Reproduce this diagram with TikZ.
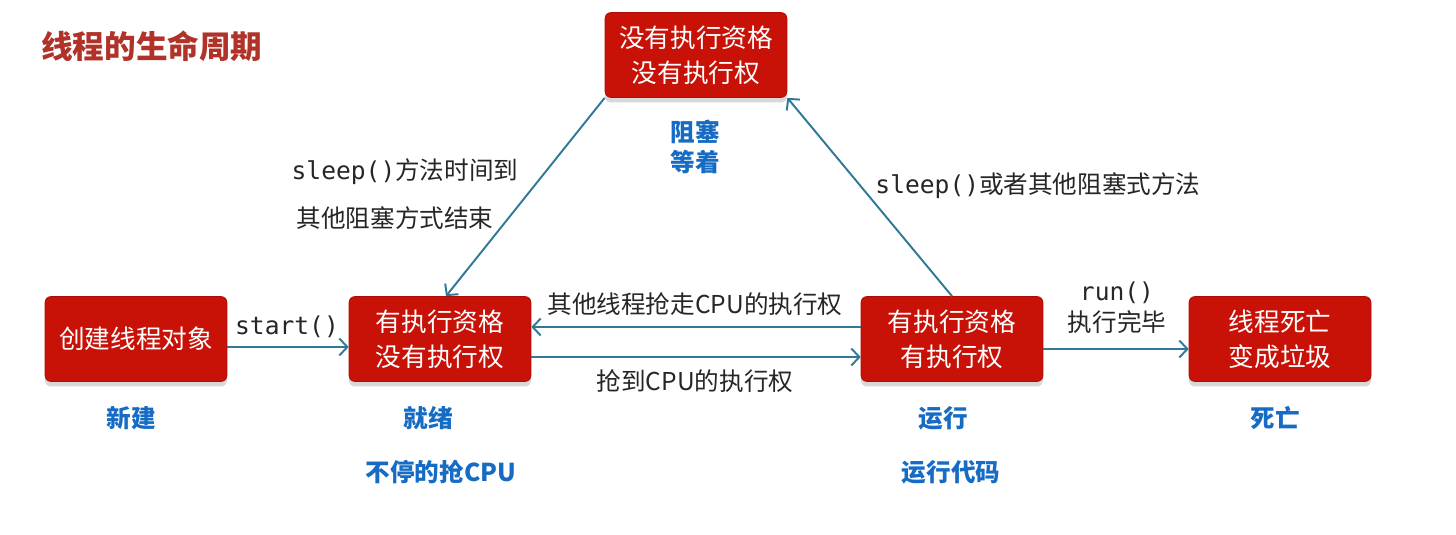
\documentclass[tikz,border=0pt]{standalone}
\usepackage{fontspec}
\setmainfont{Noto Sans CJK SC}
\setmonofont{DejaVu Sans Mono}
\usetikzlibrary{arrows.meta,shadows}

\definecolor{boxred}{RGB}{200,18,8}
\definecolor{linkblue}{RGB}{48,120,152}
\definecolor{statblue}{RGB}{22,108,196}
\definecolor{titlered}{RGB}{176,50,40}

\begin{document}
\begin{tikzpicture}[
    x=0.02cm, y=-0.02cm,
    state/.style={draw=boxred!85!black, fill=boxred, rounded corners=0.12cm,
                  minimum width=3.64cm, minimum height=1.7cm, align=center,
                  text=white, font=\fontsize{14.6}{20}\selectfont,
                  drop shadow={shadow xshift=0cm, shadow yshift=-0.1cm, fill=black!30}},
    stat/.style={text=statblue, align=center, font=\fontsize{14}{17}\selectfont\bfseries},
    note/.style={text=black!85, font=\fontsize{14}{17}\selectfont, align=center},
    arrow/.style={-{Straight Barb[length=1.6mm,width=3.4mm]}, draw=linkblue, line width=1.1pt},
  ]
    \useasboundingbox (0,0) rectangle (1456,534);
    \fill[white] (0,0) rectangle (1456,534);

    \node[anchor=west, text=titlered, font=\fontsize{18}{20}\selectfont\bfseries] (title) at (35,46) {线程的生命周期};

    \node[state] (create) at (136,339) {创建线程对象};
    \node[state] (ready)  at (440,339) {有执行资格\\没有执行权};
    \node[state] (run)    at (952,339) {有执行资格\\有执行权};
    \node[state] (dead)   at (1280,339) {线程死亡\\变成垃圾};
    \node[state] (block)  at (696,55) {没有执行资格\\没有执行权};

    \node[stat] (newlbl)   at (131,418) {新建};
    \node[stat] (readylbl) at (428,418) {就绪};
    \node[stat] (readyact) at (441,472) {不停的抢CPU};
    \node[stat] (runlbl)   at (943,418) {运行};
    \node[stat] (runact)   at (951,472) {运行代码};
    \node[stat] (deadlbl)  at (1275,418) {死亡};
    \node[stat] (blocklbl) at (695,147) {阻塞\\等着};

    \draw[arrow] ([yshift=-0.16cm]create.east) -- ([yshift=-0.16cm]ready.west);
    \draw[arrow] ([yshift=-0.36cm]ready.east) -- ([yshift=-0.36cm]run.west);
    \draw[arrow] ([yshift=0.24cm]run.west) -- ([yshift=0.24cm]ready.east);
    \draw[arrow] ([yshift=-0.2cm]run.east) -- ([yshift=-0.2cm]dead.west);
    \draw[arrow] (block.south west) -- ([xshift=0.12cm]ready.north);
    \draw[arrow] (run.north) -- (block.south east);

    \node[note] (startlbl) at (287,327) {\texttt{start()}};
    \node[note] (grab)     at (695,381) {抢到CPU的执行权};
    \node[note] (lose)     at (695,304) {其他线程抢走CPU的执行权};
    \node[note] (runcall)  at (1117,293) {\texttt{run()}};
    \node[note] (finish)   at (1117,322) {执行完毕};
    \node[note] (wake)     at (405,172) {\texttt{sleep()}方法时间到};
    \node[note] (wakeb)    at (395,218) {其他阻塞方式结束};
    \node[note] (sleep)    at (1038,186) {\texttt{sleep()}或者其他阻塞式方法};
  \end{tikzpicture}
\end{document}
